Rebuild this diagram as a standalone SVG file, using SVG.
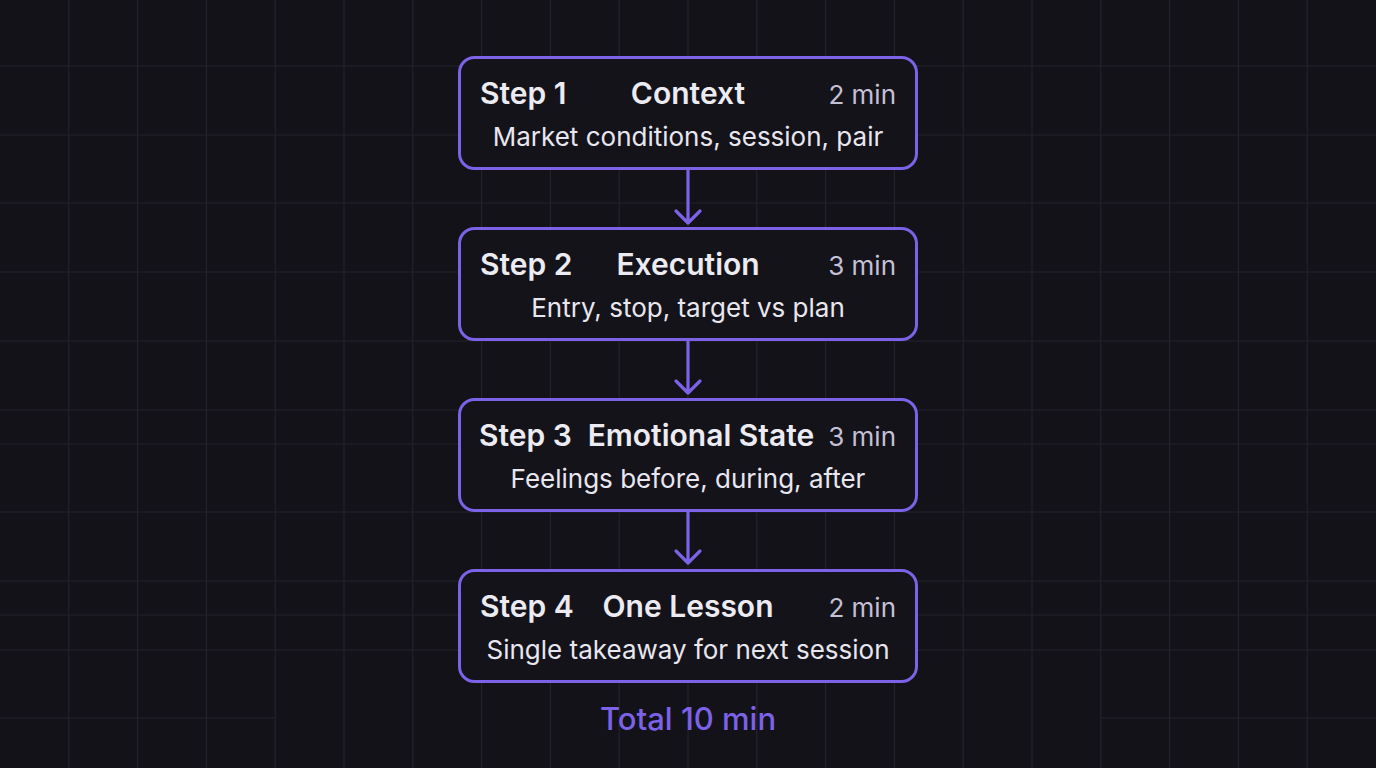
<svg xmlns="http://www.w3.org/2000/svg" width="1376" height="768" viewBox="0 0 1376 768">
<defs>
<style>
.grid line{stroke:#23222d;stroke-width:1.2}
.box{fill:#14131a;stroke:#7b62e6;stroke-width:3}
.step{font-family:Inter,"Noto Sans",sans-serif;font-weight:600;font-size:30px;fill:#ecebf2}
.title{font-family:Inter,"Noto Sans",sans-serif;font-weight:600;font-size:30px;fill:#ecebf2;text-anchor:middle}
.min{font-family:Inter,"Noto Sans",sans-serif;font-weight:400;font-size:26px;fill:#c4c0d6;text-anchor:end}
.sub{font-family:Inter,"Noto Sans",sans-serif;font-weight:400;font-size:26px;fill:#e8e6ef;text-anchor:middle}
.conn{stroke:#7b62e6;stroke-width:3.2;fill:none;stroke-linecap:round;stroke-linejoin:round}
.total{font-family:Inter,"Noto Sans",sans-serif;font-weight:500;font-size:31px;fill:#7b62e6;text-anchor:middle}
</style>
</defs>
<rect width="1376" height="768" fill="#131219"/>
<g class="grid">
<line x1="68.8" y1="0" x2="68.8" y2="768"/>
<line x1="137.6" y1="0" x2="137.6" y2="768"/>
<line x1="206.4" y1="0" x2="206.4" y2="768"/>
<line x1="275.2" y1="0" x2="275.2" y2="768"/>
<line x1="344" y1="0" x2="344" y2="768"/>
<line x1="412.8" y1="0" x2="412.8" y2="768"/>
<line x1="481.6" y1="0" x2="481.6" y2="768"/>
<line x1="550.4" y1="0" x2="550.4" y2="768"/>
<line x1="619.2" y1="0" x2="619.2" y2="768"/>
<line x1="688" y1="0" x2="688" y2="768"/>
<line x1="756.8" y1="0" x2="756.8" y2="768"/>
<line x1="825.6" y1="0" x2="825.6" y2="768"/>
<line x1="894.4" y1="0" x2="894.4" y2="768"/>
<line x1="963.2" y1="0" x2="963.2" y2="768"/>
<line x1="1032" y1="0" x2="1032" y2="768"/>
<line x1="1100.8" y1="0" x2="1100.8" y2="768"/>
<line x1="1169.6" y1="0" x2="1169.6" y2="768"/>
<line x1="1238.4" y1="0" x2="1238.4" y2="768"/>
<line x1="1307.2" y1="0" x2="1307.2" y2="768"/>
<line x1="0" y1="66" x2="1376" y2="66"/>
<line x1="0" y1="135" x2="1376" y2="135"/>
<line x1="0" y1="203" x2="1376" y2="203"/>
<line x1="0" y1="272" x2="1376" y2="272"/>
<line x1="0" y1="341" x2="1376" y2="341"/>
<line x1="0" y1="410" x2="1376" y2="410"/>
<line x1="0" y1="444" x2="1376" y2="444"/>
<line x1="0" y1="512" x2="1376" y2="512"/>
<line x1="0" y1="581" x2="1376" y2="581"/>
<line x1="0" y1="615" x2="1376" y2="615"/>
<line x1="0" y1="650" x2="1376" y2="650"/>
<line x1="0" y1="718" x2="275" y2="718"/>
<line x1="1101" y1="718" x2="1376" y2="718"/>
</g>
<g id="connectors">
<path class="conn" d="M688 170V223M676 211L688 223L700 211"/>
<path class="conn" d="M688 341V393M676 381L688 393L700 381"/>
<path class="conn" d="M688 512V563M676 551L688 563L700 551"/>
</g>
<g id="step1">
<rect class="box" x="459.5" y="57.5" width="457" height="111" rx="15"/>
<text class="step" x="480" y="104">Step 1</text>
<text class="title" x="688" y="104">Context</text>
<text class="min" x="896" y="104">2 min</text>
<text class="sub" x="688" y="146">Market conditions, session, pair</text>
</g>
<g id="step2">
<rect class="box" x="459.5" y="228.5" width="457" height="111" rx="15"/>
<text class="step" x="480" y="275">Step 2</text>
<text class="title" x="688" y="275">Execution</text>
<text class="min" x="896" y="275">3 min</text>
<text class="sub" x="688" y="317">Entry, stop, target vs plan</text>
</g>
<g id="step3">
<rect class="box" x="459.5" y="399.5" width="457" height="111" rx="15"/>
<text class="step" x="479" y="446">Step 3</text>
<text class="title" x="701" y="446">Emotional State</text>
<text class="min" x="896" y="446">3 min</text>
<text class="sub" x="688" y="488">Feelings before, during, after</text>
</g>
<g id="step4">
<rect class="box" x="459.5" y="570.5" width="457" height="111" rx="15"/>
<text class="step" x="480" y="617">Step 4</text>
<text class="title" x="688" y="617">One Lesson</text>
<text class="min" x="896" y="617">2 min</text>
<text class="sub" x="688" y="659">Single takeaway for next session</text>
</g>
<g id="total">
<text class="total" x="688" y="730">Total 10 min</text>
</g>
</svg>
